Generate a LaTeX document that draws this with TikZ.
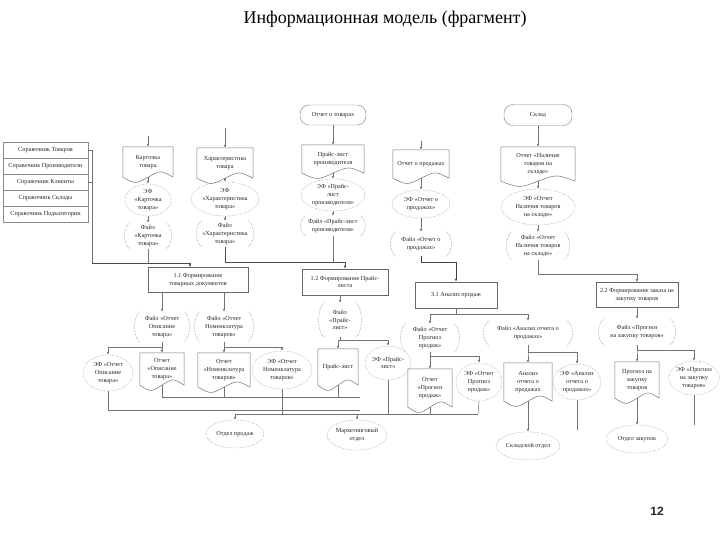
\documentclass[tikz,border=0pt]{standalone}
\usepackage{fontspec}
\setmainfont{Liberation Serif}
\newfontfamily\numfont{Liberation Sans}
\usetikzlibrary{shapes.geometric,arrows.meta,calc}
\begin{document}
\begin{tikzpicture}[x=1pt,y=-1pt,
  every node/.style={font=\fontsize{6.2}{7.8}\selectfont, text=black!85, align=center, inner sep=1pt},
  ln/.style={draw=black!55, line width=0.5pt},
  arr/.style={ln, -{Latex[length=3pt,width=2.5pt]}},
  sz/.style 2 args={minimum width=#1pt, minimum height=#2pt},
  dirbox/.style={draw=black!45, rectangle, sz={85}{16}},
  procbox/.style={draw=black!60, rectangle, line width=0.6pt},
  efell/.style={draw=black!55, ellipse, densely dotted, inner sep=0pt},
  termbox/.style={draw=black!50, rounded corners=9pt},
  docbox/.style={rectangle},
  filebox/.style={rectangle},
]
\useasboundingbox (0,0) rectangle (720,540);

\node[font=\fontsize{18}{21}\selectfont, text=black] (title) at (385,19) {Информационная модель (фрагмент)};
\node[font=\numfont\bfseries\fontsize{12}{14}\selectfont, text=black!85] (pg) at (657,511) {12};

% directories
\node[dirbox] (d1) at (45.5,150) {Справочник Товаров};
\node[dirbox] (d2) at (45.5,166) {Справочник Производители};
\node[dirbox] (d3) at (45.5,182) {Справочник Клиенты};
\node[dirbox] (d4) at (45.5,198) {Справочник Склады};
\node[dirbox] (d5) at (45.5,214) {Справочник Подкатегории};

% terminators
\node[termbox, sz={66}{20}] (T1) at (333,115) {Отчет о товарах};
\node[termbox, sz={68}{21}] (T2) at (538,115) {Склад};

% documents row
\node[docbox, sz={50}{30}] (A1) at (148,162) {Карточка\\товара};
\node[docbox, sz={56}{30}] (B1) at (225,163) {Характеристика\\товара};
\node[docbox, sz={62}{28}] (C1) at (333,159) {Прайс-лист\\производителя};
\node[docbox, sz={56}{28}] (D1) at (421,164) {Отчет о продажах};
\node[docbox, sz={74}{34}] (E1) at (538,164) {Отчет «Наличие\\товаров на\\складе»};

% EF row
\node[efell, sz={46}{32}] (A2) at (148,200) {ЭФ\\«Карточка\\товара»};
\node[efell, sz={68}{34}] (B2) at (225,199) {ЭФ\\«Характеристика\\товара»};
\node[efell, sz={64}{32}] (C2) at (333,195) {ЭФ «Прайс-\\лист\\производителя»};
\node[efell, sz={58}{28}] (D2) at (421,204) {ЭФ «Отчет о\\продажах»};
\node[efell, sz={74}{36}] (E2) at (538,207) {ЭФ «Отчет\\Наличия товаров\\на складе»};

% files row
\node[filebox, sz={44}{26}] (A3) at (148,236) {Файл\\«Карточка\\товара»};
\node[filebox, sz={54}{26}] (B3) at (225,234) {Файл\\«Характеристика\\товара»};
\node[filebox, sz={62}{20}] (C3) at (333,226) {Файл «Прайс-лист\\производителя»};
\node[filebox, sz={58}{24}] (D3) at (421,244) {Файл «Отчет о\\продажах»};
\node[filebox, sz={60}{28}] (E3) at (538,246) {Файл «Отчет\\Наличия товаров\\на складе»};

% processes
\node[procbox, sz={100}{25}] (P11) at (198,280) {1.1 Формирование\\товарных документов};
\node[procbox, sz={86}{26}] (P12) at (345,282) {1.2 Формирование Прайс-\\листа};
\node[procbox, sz={82}{26}] (P31) at (456,295) {3.1 Анализ продаж};
\node[procbox, sz={82}{25}] (P22) at (637,295) {2.2 Формирование заказа на\\закупку товаров};

% lower files
\node[filebox, sz={52}{30}] (F1) at (162,327) {Файл «Отчет\\Описание\\товара»};
\node[filebox, sz={56}{30}] (F2) at (224,327) {Файл «Отчет\\Номенклатура\\товаров»};
\node[filebox, sz={40}{34}] (F3) at (340,320) {Файл\\«Прайс-\\лист»};
\node[filebox, sz={56}{28}] (F4) at (430,338) {Файл «Отчет\\Прогноз\\продаж»};
\node[filebox, sz={86}{24}] (F5) at (528,333) {Файл «Анализ отчета о\\продажах»};
\node[filebox, sz={74}{26}] (F6) at (637,332) {Файл «Прогноз\\на закупку товаров»};

% output row
\node[efell, sz={50}{36}] (G1) at (108,373) {ЭФ «Отчет\\Описание\\товара»};
\node[docbox, sz={44}{32}] (G2) at (162,369) {Отчет\\«Описание\\товара»};
\node[docbox, sz={52}{34}] (G3) at (224,370) {Отчет\\«Номенклатура\\товаров»};
\node[efell, sz={60}{38}] (G4) at (282,370) {ЭФ «Отчет\\Номенклатура\\товаров»};
\node[docbox, sz={40}{36}] (G5) at (338,367) {Прайс-лист};
\node[efell, sz={46}{34}] (G6) at (388,363) {ЭФ «Прайс-\\лист»};
\node[docbox, sz={44}{38}] (G7) at (430,388) {Отчет\\«Прогноз\\продаж»};
\node[efell, sz={46}{38}] (G8) at (479,382) {ЭФ «Отчет\\Прогноз\\продаж»};
\node[docbox, sz={48}{38}] (G9) at (528,382) {Анализ\\отчета о\\продажах};
\node[efell, sz={48}{36}] (G10) at (577,382) {ЭФ «Анализ\\отчета о\\продажах»};
\node[docbox, sz={44}{36}] (G11) at (637,380) {Прогноз на\\закупку\\товаров};
\node[efell, sz={44}{34}] (G12) at (694,378) {ЭФ «Прогноз\\на закупку\\товаров»};

% departments
\node[efell, sz={58}{28}] (H1) at (235,434) {Отдел продаж};
\node[efell, sz={60}{30}] (H2) at (357,435) {Маркетинговый\\отдел};
\node[efell, sz={64}{28}] (H3) at (528,446) {Складской отдел};
\node[efell, sz={62}{28}] (H4) at (637,439) {Отдел закупок};

% document outlines (wavy bottom)
\foreach \n in {A1,B1,C1,D1,E1,G2,G3,G5,G7,G9,G11}{
  \draw[ln] (\n.south east) -- (\n.north east) -- (\n.north west) -- (\n.south west)
     .. controls ($(\n.south west)!0.5!(\n.south)+(0,7)$) .. (\n.south)
     .. controls ($(\n.south)!0.5!(\n.south east)+(0,-7)$) .. (\n.south east);
}
% file outlines (dotted side brackets)
\foreach \n in {A3,B3,C3,D3,E3,F1,F2,F3,F4,F5,F6}{
  \draw[ln, densely dotted] ([xshift=4pt]\n.north west) .. controls +(-7,5) and +(-7,-5) .. ([xshift=4pt]\n.south west);
  \draw[ln, densely dotted] ([xshift=-4pt]\n.north east) .. controls +(7,5) and +(7,-5) .. ([xshift=-4pt]\n.south east);
}

% top columns
\coordinate (a0) at (148,136);
\coordinate (b0) at (225,128);
\coordinate (d0) at (421,141);
\draw[arr] (a0) -- (A1.north);
\draw[arr] (A1.south) -- (A2.north);
\draw[arr] (A2.south) -- (A3.north);
\draw[arr] (b0) -- (B1.north);
\draw[arr] (B1.south) -- (B2.north);
\draw[arr] (B2.south) -- (B3.north);
\draw[arr] (T1.south) -- (C1.north);
\draw[arr] (C1.south) -- (C2.north);
\draw[arr] (C2.south) -- (C3.north);
\draw[arr] (d0) -- (D1.north);
\draw[arr] (D1.south) -- (D2.north);
\draw[arr] (D2.south) -- (D3.north);
\draw[arr] (T2.south) -- (E1.north);
\draw[arr] (E1.south) -- (E2.north);
\draw[arr] (E2.south) -- (E3.north);

% bus to processes
\coordinate (bus1) at (92,263);
\draw[ln] (d1.east) -| (bus1);
\draw[ln] (d3.east) -- (d3.east -| bus1);
\draw[arr, draw=black!70] (bus1) -| ([xshift=-8pt]P11.north);
\draw[ln] (A3.south) -- (A3.south |- bus1);
\draw[arr, draw=black!70] (B3.south) |- ([yshift=6pt]P12.north) -- (P12.north);
\draw[ln] (C3.south) -- (C3.south |- bus1);
\draw[arr, draw=black!75, line width=0.8pt] (D3.south) |- ([yshift=19pt]P31.north) -- (P31.north);
\draw[arr] (E3.south) |- ([yshift=8pt]P22.north) -- (P22.north);

% processes to files
\draw[arr] (P11.south -| F1.north) -- (F1.north);
\draw[arr] (P11.south -| F2.north) -- (F2.north);
\draw[arr] (P12.south -| F3.north) -- (F3.north);
\draw[arr] (P31.south) -- ++(0,6) -| (F4.north);
\draw[arr] (P31.south) -- ++(0,6) -| (F5.north);
\draw[arr] (P22.south) -- (F6.north);

% files to outputs
\draw[arr] (F1.south) -- (G2.north);
\draw[arr] (F1.south) -- ++(0,5) -| (G1.north);
\draw[arr] (F2.south) -- (G3.north);
\draw[arr] (F2.south) -- ++(0,5) -| (G4.north);
\draw[arr] (F3.south) -- ++(0,3) -| (G5.north);
\draw[arr] (F3.south) -- ++(0,3) -| (G6.north);
\draw[arr] (F4.south) -- (G7.north);
\draw[arr] (F4.south) -- ++(0,4) -| (G8.north);
\draw[arr] (F5.south) -- ++(0,7) -| (G9.north);
\draw[arr] (F5.south) -- ++(0,7) -| (G10.north);
\draw[arr] (F6.south) -- ++(0,5) -| (G11.north);
\draw[arr] (F6.south) -- ++(0,5) -| (G12.north);

% outputs to departments
\coordinate (bA) at (360,397);
\coordinate (bB) at (360,410);
\coordinate (m1) at (235,414);
\coordinate (m2) at (478,414);
\draw[ln] (G1.south) |- (bB);
\draw[ln] (G2.south) |- (bA);
\draw[ln] (G3.south) -- (G3.south |- bA);
\draw[ln] (G4.south) -- (G4.south |- m1);
\draw[ln] (G5.south) -- (G5.south |- bA);
\draw[ln, line width=0.9pt] (m1) -- (m2);
\draw[arr] (m1) -- (H1.north);
\draw[arr] (m1 -| H2.north) -- (H2.north);
\draw[ln] (G6.south) -- (G6.south |- m2);
\draw[ln] (G7.south) -- (G7.south |- m2);
\draw[ln] (G8.south) -- (m2);
\draw[arr] (G9.south) -- (H3.north);
\coordinate (g10e) at (577,430);
\draw[ln] (G10.south) -- (g10e);
\draw[arr] (G11.south) -- (H4.north);
\coordinate (g12e) at (694,425);
\draw[ln] (G12.south) -- (g12e);
\end{tikzpicture}
\end{document}
